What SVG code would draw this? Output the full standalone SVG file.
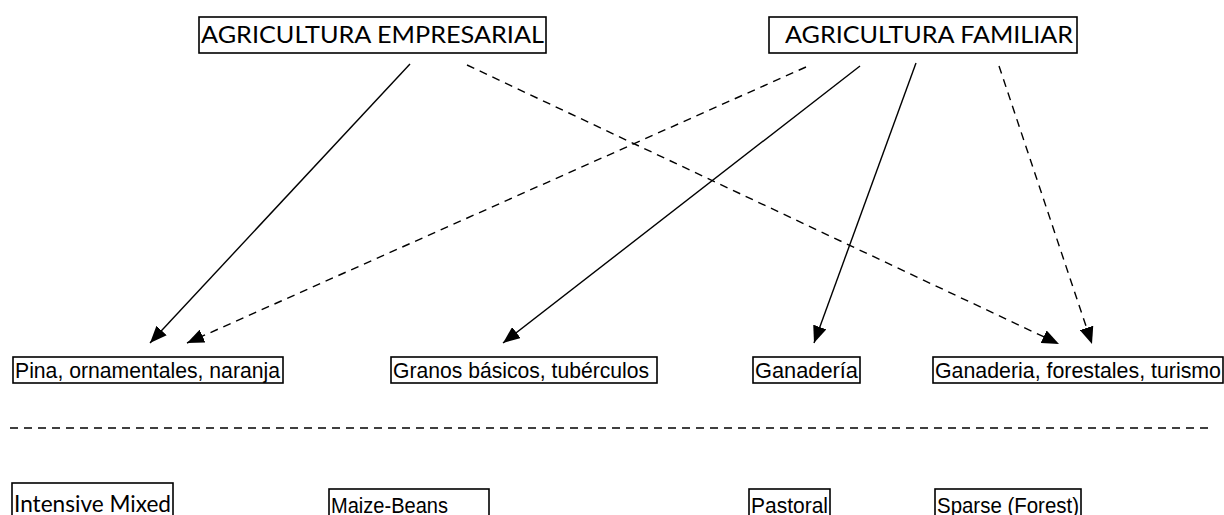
<svg xmlns="http://www.w3.org/2000/svg" width="1224" height="515" viewBox="0 0 1224 515">
<style>
.box{fill:#fff;stroke:#000;stroke-width:1.6}
.t1{font-family:Lato,"Open Sans",sans-serif;font-size:24px;fill:#000}
.t2{font-family:"Liberation Sans",Arial,sans-serif;font-size:22px;fill:#000}
.c{stroke:#000;stroke-width:1.4;fill:none}
.d{stroke-dasharray:8,6}
</style>
<defs>
<marker id="ah" markerUnits="userSpaceOnUse" markerWidth="18" markerHeight="14" refX="17" refY="7" orient="auto">
<path d="M0,0 L17,7 L0,14 z" fill="#000" stroke="none"/>
</marker>
</defs>
<g id="connectors">
<line class="c" x1="410" y1="64" x2="150" y2="343" marker-end="url(#ah)"/>
<line class="c d" x1="467" y1="65" x2="1059" y2="344" marker-end="url(#ah)"/>
<line class="c d" x1="806" y1="67" x2="187" y2="343" marker-end="url(#ah)"/>
<line class="c" x1="860" y1="66" x2="503" y2="343" marker-end="url(#ah)"/>
<line class="c" x1="916" y1="63" x2="814" y2="343" marker-end="url(#ah)"/>
<line class="c d" x1="999" y1="66" x2="1092" y2="344" marker-end="url(#ah)"/>
<line class="c d" x1="10" y1="428" x2="1212" y2="428"/>
</g>
<g id="n-empresarial">
<rect class="box" x="199" y="17" width="347" height="36"/>
<text class="t1" x="201" y="43" textLength="343" lengthAdjust="spacingAndGlyphs">AGRICULTURA EMPRESARIAL</text>
</g>
<g id="n-familiar">
<rect class="box" x="769" y="17" width="308" height="36"/>
<text class="t1" x="785" y="43" textLength="288" lengthAdjust="spacingAndGlyphs">AGRICULTURA FAMILIAR</text>
</g>
<g id="n-pina">
<rect class="box" x="13" y="357" width="270" height="26"/>
<text class="t2" x="15" y="378" textLength="265" lengthAdjust="spacingAndGlyphs">Pina, ornamentales, naranja</text>
</g>
<g id="n-granos">
<rect class="box" x="391" y="357" width="266" height="26"/>
<text class="t2" x="393" y="378" textLength="256" lengthAdjust="spacingAndGlyphs">Granos básicos, tubérculos</text>
</g>
<g id="n-ganaderia">
<rect class="box" x="753" y="357" width="107" height="26"/>
<text class="t2" x="755" y="378" textLength="103" lengthAdjust="spacingAndGlyphs">Ganadería</text>
</g>
<g id="n-ganaderia-forestales">
<rect class="box" x="933" y="357" width="290" height="26"/>
<text class="t2" x="935" y="378" textLength="286" lengthAdjust="spacingAndGlyphs">Ganaderia, forestales, turismo</text>
</g>
<g id="n-intensive">
<rect class="box" x="12" y="483" width="161" height="50"/>
<text class="t1" x="14" y="512" textLength="157" lengthAdjust="spacingAndGlyphs">Intensive Mixed</text>
</g>
<g id="n-maize">
<rect class="box" x="329" y="489" width="160" height="50"/>
<text class="t2" x="331" y="513" textLength="117" lengthAdjust="spacingAndGlyphs">Maize-Beans</text>
</g>
<g id="n-pastoral">
<rect class="box" x="749" y="489" width="81" height="50"/>
<text class="t2" x="751" y="513" textLength="77" lengthAdjust="spacingAndGlyphs">Pastoral</text>
</g>
<g id="n-sparse">
<rect class="box" x="935" y="489" width="146" height="50"/>
<text class="t2" x="937" y="513" textLength="142" lengthAdjust="spacingAndGlyphs">Sparse (Forest)</text>
</g>
</svg>
